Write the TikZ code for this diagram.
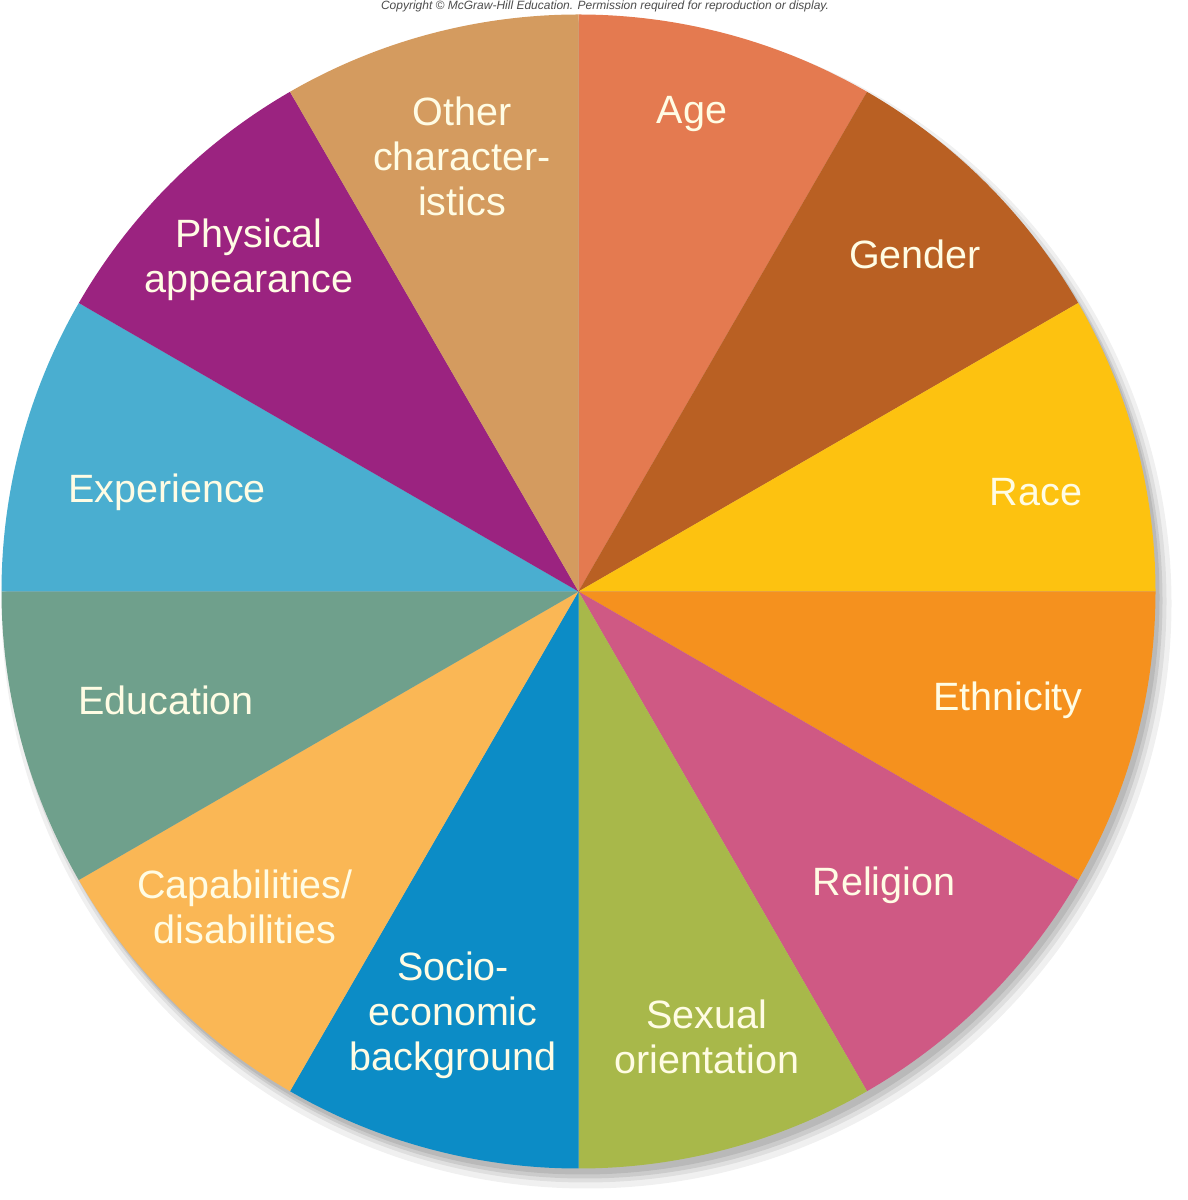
\documentclass[tikz,border=0pt]{standalone}
\usepackage{fontspec}
\setmainfont{Liberation Sans}
\usetikzlibrary{calc}
\definecolor{agecol}{RGB}{228,122,80}
\definecolor{gendercol}{RGB}{185,96,35}
\definecolor{racecol}{RGB}{253,194,16}
\definecolor{ethniccol}{RGB}{245,145,30}
\definecolor{religioncol}{RGB}{207,89,132}
\definecolor{sexualcol}{RGB}{168,184,74}
\definecolor{sociocol}{RGB}{12,140,198}
\definecolor{capabcol}{RGB}{250,183,85}
\definecolor{educol}{RGB}{111,160,140}
\definecolor{expercol}{RGB}{74,174,208}
\definecolor{physcol}{RGB}{155,35,128}
\definecolor{othercol}{RGB}{212,155,95}
\definecolor{textcream}{RGB}{255,252,228}
\begin{document}
\begin{tikzpicture}[x=1pt,y=1pt,
    slicetext/.style={text=textcream,align=center,font=\fontsize{39.5}{45}\selectfont}]
        \useasboundingbox (0,0) rectangle (1188,1200);
        \coordinate (C) at (578.5,608.5);
        \node[font=\fontsize{12}{14}\selectfont\itshape,text=gray!60!black,anchor=base] (copy) at (605,1190)
        {Copyright © McGraw-Hill Education. Permission required for reproduction or display.};

        % soft shadow
        \fill[black,opacity=0.06] ($(C)+(8,-12)$) circle (585);
        \fill[black,opacity=0.07] ($(C)+(7,-10)$) circle (581);
        \fill[black,opacity=0.09] ($(C)+(6,-9)$) circle (578);
        \fill[black,opacity=0.09] ($(C)+(4,-6)$) circle (577);

        \fill[agecol] (C) -- ++(90:577) arc[start angle=90,end angle=60,radius=577] -- cycle;
        \fill[gendercol] (C) -- ++(60:577) arc[start angle=60,end angle=30,radius=577] -- cycle;
        \fill[racecol] (C) -- ++(30:577) arc[start angle=30,end angle=0,radius=577] -- cycle;
        \fill[ethniccol] (C) -- ++(0:577) arc[start angle=0,end angle=-30,radius=577] -- cycle;
        \fill[religioncol] (C) -- ++(-30:577) arc[start angle=-30,end angle=-60,radius=577] -- cycle;
        \fill[sexualcol] (C) -- ++(-60:577) arc[start angle=-60,end angle=-90,radius=577] -- cycle;
        \fill[sociocol] (C) -- ++(-90:577) arc[start angle=-90,end angle=-120,radius=577] -- cycle;
        \fill[capabcol] (C) -- ++(-120:577) arc[start angle=-120,end angle=-150,radius=577] -- cycle;
        \fill[educol] (C) -- ++(-150:577) arc[start angle=-150,end angle=-180,radius=577] -- cycle;
        \fill[expercol] (C) -- ++(180:577) arc[start angle=180,end angle=150,radius=577] -- cycle;
        \fill[physcol] (C) -- ++(150:577) arc[start angle=150,end angle=120,radius=577] -- cycle;
        \fill[othercol] (C) -- ++(120:577) arc[start angle=120,end angle=90,radius=577] -- cycle;

        \node[slicetext] (age) at (692,1086) {Age};
        \node[slicetext] (gender) at (915,946) {Gender};
        \node[slicetext] (race) at (1036,708) {Race};
        \node[slicetext] (ethnicity) at (1008,500) {Ethnicity};
        \node[slicetext] (religion) at (884,315) {Religion};
        \node[slicetext] (sexual) at (707,163) {Sexual\\orientation};
        \node[slicetext] (socio) at (453,185) {Socio-\\economic\\background};
        \node[slicetext] (capab) at (245,293) {Capabilities/\\disabilities};
        \node[slicetext] (education) at (166,500) {Education};
        \node[slicetext] (experience) at (167,708) {Experience};
        \node[slicetext] (physical) at (249,940) {Physical\\appearance};
        \node[slicetext] (other) at (462,1044) {Other\\character-\\istics};
    \end{tikzpicture}
\end{document}
